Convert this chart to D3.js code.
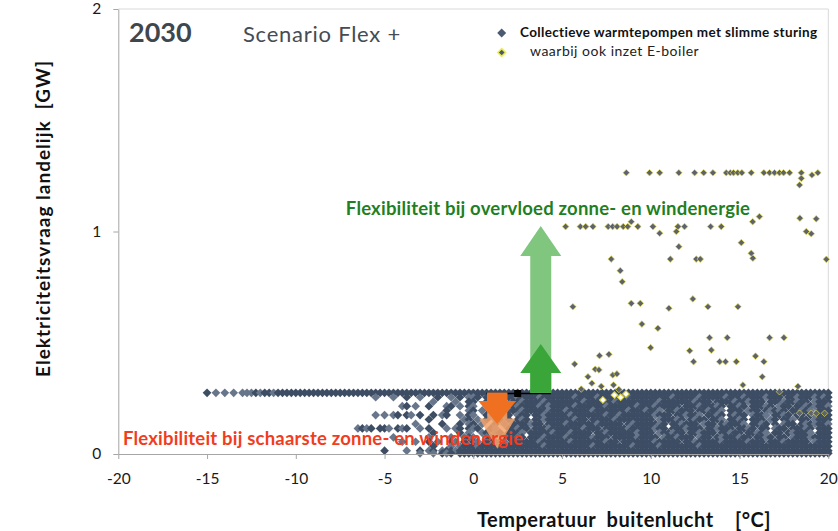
<!DOCTYPE html>
<html>
<head>
<meta charset="utf-8">
<script src="https://cdn.jsdelivr.net/npm/d3@7"></script>
<style>
  html, body { margin: 0; padding: 0; background: #fff; }
  svg { display: block; font-family: Lato, "Open Sans", sans-serif; }
  .pre { white-space: pre; }
</style>
</head>
<body>
<svg id="chart" width="838" height="531"></svg>
<script>
/* ── axis ticks ─────────────────────────────────────────── */
const xTicks = [-20, -15, -10, -5, 0, 5, 10, 15, 20];
const yTicks = [0, 1, 2];

/* ── dense band of heat-pump points, read row by row ────────
   each row: 7 chunks of 20 cells (0.25 °C each, from -15 °C) + last cell at 20 °C
   '#' = dark point, '+' = light point, '.' = empty                        */
const bandStart = -15;
const bandStep  = 0.25;
const bandLevels = [0.275, 0.255, 0.235, 0.215, 0.195, 0.175, 0.155, 0.135,
                    0.115, 0.095, 0.075, 0.055, 0.035, 0.015, 0.003];
const bandRows = [
  ["#.+.+.+.+++#+##+####", "####################", "####################", "####################", "####################", "####################", "####################", "#"],
  ["....................", "..................+.", "..+..#..+...#..+.#.+", "+#.##+#.##+####+####", "###+####+######+####", "#####+#####+#####+##", "#+####+###.##+###+#+", "#"],
  ["....................", "....................", "...........+....+..#", "#..#+..+.##+####+###", "#####+######+#######", "##+#######+###.####+", "##+###.###+##+##.+##", "#"],
  ["....................", "....................", "....+#.+..#...+#.+.#", "+..+#.+.##+####+#+##", "###+######+######+##", "#+#####.###+###+#.##", "+#.###+#.+##.##+#+##", "+"],
  ["....................", "....................", "..............#....+", "#.+.+.#.+##+#####+##", "#+#####+#######+###+", "##+.##+###.##+##+.##", "#.+##.#+#+#.##+#+.##", "#"],
  ["....................", "..................+.", "+.+#.#+.#..#.+#..+.#", "+..#+..+#.+##.##+###", "##+#######+##+######", "#+###.##+##+.##+#.#+", "##.+##+.##+#.##.#+##", "#"],
  ["....................", "....................", "..........#.......+#", ".+.#.+#.#.#+#.##+###", "###+##.#####+#######", "#.+###+#.#+##.##+.##", "+#.###.+#.##+.##.+##", "#"],
  ["....................", "....................", ".......+.....#...#.+", "#.+..#.+.####+##.###", "#+######+#####.#+###", "##+#.##+###.+##.#+##", "#+.##+#.#.+##.#+#+##", "+"],
  ["....................", "..............+#+#.#", "#+.#+#..+.#...+.+#.#", "+#..#+..##+##.###+##", "#####+###.#####+####", "#+##.###+###.##+###.", "##+#.##.+##.###+#.##", "#"],
  ["....................", "....................", "...........#.....#.+", "..+#.+#.###+.#####+#", "##+####.##+######+##", "#.+##+##.##+###.##+#", "#.##+#+.##.#+###+.##", "#"],
  ["....................", "....................", "..+.......+....+..+#", "+..+#..###+#.###+###", "#+#####+###.#####+##", "##.+##+###.+##.#+###", "+##.##+#.##.+###+###", "#"],
  ["....................", "....................", "....+..+..#.+..#+.#.", "#+.#.##+.######+####", "##+#######+##.######", "#+#####.##+#####+###", "##+###.###+#####.+##", "#"],
  ["....................", "....................", "...........#...+.+##", "#+####+#########+###", "#######+########+###", "##+########+########", "####################", "#"],
  ["....................", "....................", "#....+..#.+#.+##+###", "####################", "####################", "####################", "####################", "#"],
  ["....................", "....................", "........+..+.#+#.###", "####################", "####################", "####################", "####################", "#"]
];

/* ── points where the E-boiler is also used ───────────────── */
const boilerX = [
  8.62, 9.93, 10.5, 11.58, 12.47, 12.98, 13.5, 14.25, 14.48, 14.66, 14.9, 15.13, 15.66, 16.37, 16.69, 16.97, 17.25, 17.48, 17.82, 18.48, 19.08, 19.41, 18.48, 18.38,
  5.2, 6.03, 6.33, 6.74, 7.6, 7.85, 8.1, 8.45, 8.7, 9.27, 10.12, 11.53, 11.9, 13.37, 13.97,
  8.9, 10.5, 11.44, 15.74, 16.12, 18.4, 18.76, 19.04, 19.32, 19.89,
  7.77, 8.28, 8.39, 8.9, 9.41, 9.5, 10.4, 9.99, 11.02, 11.1, 11.58, 12.37, 12.56, 12.79, 13.22, 14.91, 15.1, 15.66, 15.75,
  13.31, 14.31, 12.19, 12.41, 13.41, 13.88, 14.21, 14.82, 15.9, 16.37, 16.69, 17.5, 16.28, 15.19, 18.29,
  5.61, 5.71, 7.11, 7.64, 6.87, 7.08, 6.46, 6.68, 6.08, 7.21, 7.86, 8.09, 7.9, 8.2,
  17.25, 18.38, 19.04, 19.32, 19.79
];
const boilerY = [
  1.264, 1.264, 1.264, 1.264, 1.264, 1.264, 1.264, 1.264, 1.264, 1.264, 1.264, 1.264, 1.264, 1.264, 1.264, 1.264, 1.264, 1.264, 1.264, 1.264, 1.254, 1.264, 1.239, 1.209,
  1.022, 1.022, 1.022, 1.022, 1.022, 1.022, 1.022, 1.022, 1.022, 1.022, 1.022, 1.022, 1.022, 1.022, 1.022,
  1.044, 0.992, 1.0, 1.044, 1.067, 1.06, 1.0, 0.99, 1.057, 0.875,
  0.876, 0.824, 0.774, 0.677, 0.677, 0.584, 0.565, 0.478, 0.655, 0.876, 0.932, 0.697, 0.876, 0.876, 0.662, 0.662, 0.95, 0.902, 0.88,
  0.523, 0.523, 0.464, 0.415, 0.467, 0.415, 0.415, 0.415, 0.44, 0.415, 0.523, 0.523, 0.347, 0.31, 0.304,
  0.662, 0.404, 0.442, 0.448, 0.381, 0.378, 0.347, 0.318, 0.292, 0.304, 0.355, 0.36, 0.31, 0.29,
  0.28, 0.183, 0.183, 0.183, 0.183
];
const hollowX = [7.3, 8.3, 8.6, 7.95];
const hollowY = [0.243, 0.255, 0.27, 0.265];

/* ── annotations: arrows and the black reference line ─────── */
const arrowX    = [3.8, 3.8, 1.35, 1.35];
const arrowFrom = [0.275, 0.275, 0.275, 0.275];
const arrowTo   = [1.025, 0.494, 0.025, 0.135];
const refLineX  = [0.74, 4.37];
const refLineY  = 0.272;
const refMarkX  = 2.5;

/* ── layout ───────────────────────────────────────────────── */
const svg = d3.select('#chart');
const x = d3.scaleLinear().domain([-20, 20]).range([118.3, 828.3]);
const y = d3.scaleLinear().domain([0, 2]).range([454, 9]);

// plot frame (top + right light border)
svg.append('path')
   .attr('d', `M${x(-20)},${y(2)}H${x(20)}V${y(0)}`)
   .attr('fill', 'none').attr('stroke', '#d9d9d9').attr('stroke-width', 1);

/* band points */
const bandPts = [];
bandRows.forEach((chunks, i) => {
  const row = chunks.slice(0, 7).map(c => c.padEnd(20, '.').slice(0, 20)).join('') + chunks[7];
  [...row].forEach((ch, j) => {
    if (ch === '#' || ch === '+') bandPts.push({ t: bandStart + j * bandStep, v: bandLevels[i], c: ch });
  });
});

const diamond = s => d3.symbol(d3.symbolSquare, s)();

svg.append('g').selectAll('path')
   .data(bandPts)
   .join('path')
     .attr('d', diamond(38))
     .attr('transform', d => `translate(${x(d.t)},${y(d.v)}) rotate(45)`)
     .attr('fill', d => d.c === '#' ? '#3d4d64' : '#67768b');

/* boiler points */
const boiler = boilerX.map((t, i) => ({ t, v: boilerY[i] }));
svg.append('g').selectAll('path')
   .data(boiler)
   .join('path')
     .attr('d', diamond(22))
     .attr('transform', d => `translate(${x(d.t)},${y(d.v)}) rotate(45)`)
     .attr('fill', '#5d636c')
     .attr('stroke', '#e4dc4a')
     .attr('stroke-opacity', 0.8)
     .attr('stroke-width', 0.8);

svg.append('g').selectAll('path')
   .data(hollowX.map((t, i) => ({ t, v: hollowY[i] })))
   .join('path')
     .attr('d', diamond(22))
     .attr('transform', d => `translate(${x(d.t)},${y(d.v)}) rotate(45)`)
     .attr('fill', '#fff')
     .attr('stroke', '#d9cf3a')
     .attr('stroke-width', 1);

/* black reference line with marker */
svg.append('line')
   .attr('x1', x(refLineX[0])).attr('x2', x(refLineX[1]))
   .attr('y1', y(refLineY)).attr('y2', y(refLineY))
   .attr('stroke', '#000').attr('stroke-width', 1.6);
svg.append('rect')
   .attr('x', x(refMarkX) - 3.5).attr('y', y(refLineY) - 3.5)
   .attr('width', 7).attr('height', 7).attr('fill', '#000');

/* arrows */
function arrowPath(xc, from, to, headLen, headW, shaftW) {
  const y0 = y(from), y1 = y(to);
  const dir = y1 < y0 ? 1 : -1;               // 1 = pointing up
  const yb = y1 + dir * headLen;
  return `M${xc - shaftW / 2},${y0}V${yb}H${xc - headW / 2}L${xc},${y1}L${xc + headW / 2},${yb}H${xc + shaftW / 2}V${y0}Z`;
}
const arrowStyle = [
  { fill: '#80c67f', op: 1,    head: 30, hw: 41, sw: 21 },
  { fill: '#3aa63a', op: 1,    head: 29, hw: 41, sw: 21 },
  { fill: '#f4a268', op: 0.85, head: 30, hw: 36, sw: 20 },
  { fill: '#f07021', op: 1,    head: 23, hw: 38, sw: 20 }
];
arrowX.forEach((ax, i) => {
  const s = arrowStyle[i];
  svg.append('path')
     .attr('d', arrowPath(x(ax), arrowFrom[i], arrowTo[i], s.head, s.hw, s.sw))
     .attr('fill', s.fill).attr('fill-opacity', s.op);
});

/* axes */
const xAxis = svg.append('g')
  .attr('transform', `translate(0,${y(0)})`)
  .call(d3.axisBottom(x).tickValues(xTicks).tickFormat(d => String(d)).tickSizeInner(5).tickSizeOuter(0).tickPadding(14));
const yAxis = svg.append('g')
  .attr('transform', `translate(${x(-20)},0)`)
  .call(d3.axisLeft(y).tickValues(yTicks).tickFormat(d => String(d)).tickSizeInner(5).tickSizeOuter(0).tickPadding(12));
[xAxis, yAxis].forEach(g => {
  g.select('.domain').attr('stroke', '#a6a6a6');
  g.selectAll('.tick line').attr('stroke', '#a6a6a6');
  g.selectAll('.tick text').attr('font-family', 'Lato, sans-serif').attr('font-size', 15.5).attr('fill', '#1a1a1a');
});

/* texts */
svg.append('text').attr('x', 129).attr('y', 42)
   .attr('font-size', 27).attr('font-weight', 700).attr('fill', '#3f474e').text('2030');
svg.append('text').attr('x', 243).attr('y', 42)
   .attr('font-size', 22).attr('letter-spacing', 0.75).attr('fill', '#454c52').text('Scenario Flex +');

svg.append('text').attr('x', 548).attr('y', 215).attr('text-anchor', 'middle')
   .attr('font-size', 18.5).attr('letter-spacing', 0.2).attr('font-weight', 700).attr('fill', '#1f7f22')
   .text('Flexibiliteit bij overvloed zonne- en windenergie');
svg.append('text').attr('x', 123).attr('y', 445)
   .attr('font-size', 18.5).attr('letter-spacing', 0.2).attr('font-weight', 700).attr('fill', '#f23c1e')
   .text('Flexibiliteit bij schaarste zonne- en windenergie');

svg.append('text').attr('class', 'pre')
   .attr('transform', 'translate(50,218.5) rotate(-90)').attr('text-anchor', 'middle')
   .attr('font-size', 19).attr('letter-spacing', 1).attr('font-weight', 700).attr('fill', '#111')
   .text('Elektriciteitsvraag landelijk  [GW]');
svg.append('text').attr('class', 'pre')
   .attr('x', 624).attr('y', 527).attr('text-anchor', 'middle')
   .attr('font-size', 20).attr('letter-spacing', 0.5).attr('font-weight', 700).attr('fill', '#111')
   .text('Temperatuur  buitenlucht    [°C]');

/* legend */
const legendLabels = ['Collectieve warmtepompen met slimme sturing', 'waarbij ook inzet E-boiler'];
svg.append('path').attr('d', diamond(40)).attr('transform', 'translate(501.7,33) rotate(45)').attr('fill', '#4b5a70');
svg.append('path').attr('d', diamond(30)).attr('transform', 'translate(501.7,52.5) rotate(45)')
   .attr('fill', '#4b5a70').attr('stroke', '#ecec50').attr('stroke-width', 1.5);
svg.append('text').attr('x', 520).attr('y', 37)
   .attr('font-size', 13.5).attr('letter-spacing', 0.35).attr('font-weight', 700).attr('fill', '#111').text(legendLabels[0]);
svg.append('text').attr('x', 530).attr('y', 56)
   .attr('font-size', 14).attr('letter-spacing', 0.5).attr('fill', '#222').text(legendLabels[1]);
</script>
</body>
</html>
